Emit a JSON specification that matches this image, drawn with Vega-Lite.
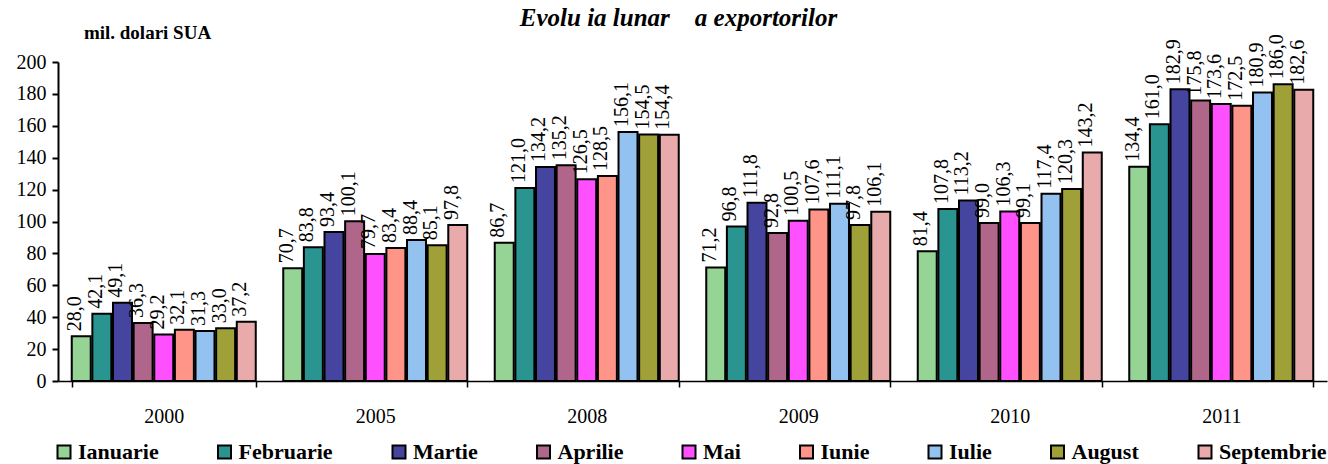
{
  "$schema": "https://vega.github.io/schema/vega-lite/v6.json",
  "autosize": "none",
  "width": 1269,
  "height": 319,
  "padding": {"left": 58, "top": 62, "right": 1, "bottom": 83},
  "background": "white",
  "config": {
    "view": {"stroke": null},
    "font": "Liberation Serif",
    "locale": {"number": {"decimal": ",", "thousands": ".", "grouping": [3], "currency": ["", ""]}}
  },
  "title": {
    "text": "Evolu ia lunar\u00a0\u00a0\u00a0\u00a0a exportorilor",
    "font": "Liberation Serif",
    "fontSize": 25,
    "fontStyle": "italic",
    "fontWeight": "bold",
    "anchor": "middle",
    "frame": "group",
    "baseline": "alphabetic",
    "dx": -14,
    "dy": 23,
    "offset": -5,
    "color": "black"
  },
  "data": {
    "values": [
      {"an": "2000", "luna": "Ianuarie", "v": 28.0},
      {"an": "2000", "luna": "Februarie", "v": 42.1},
      {"an": "2000", "luna": "Martie", "v": 49.1},
      {"an": "2000", "luna": "Aprilie", "v": 36.3},
      {"an": "2000", "luna": "Mai", "v": 29.2},
      {"an": "2000", "luna": "Iunie", "v": 32.1},
      {"an": "2000", "luna": "Iulie", "v": 31.3},
      {"an": "2000", "luna": "August", "v": 33.0},
      {"an": "2000", "luna": "Septembrie", "v": 37.2},
      {"an": "2005", "luna": "Ianuarie", "v": 70.7},
      {"an": "2005", "luna": "Februarie", "v": 83.8},
      {"an": "2005", "luna": "Martie", "v": 93.4},
      {"an": "2005", "luna": "Aprilie", "v": 100.1},
      {"an": "2005", "luna": "Mai", "v": 79.7},
      {"an": "2005", "luna": "Iunie", "v": 83.4},
      {"an": "2005", "luna": "Iulie", "v": 88.4},
      {"an": "2005", "luna": "August", "v": 85.1},
      {"an": "2005", "luna": "Septembrie", "v": 97.8},
      {"an": "2008", "luna": "Ianuarie", "v": 86.7},
      {"an": "2008", "luna": "Februarie", "v": 121.0},
      {"an": "2008", "luna": "Martie", "v": 134.2},
      {"an": "2008", "luna": "Aprilie", "v": 135.2},
      {"an": "2008", "luna": "Mai", "v": 126.5},
      {"an": "2008", "luna": "Iunie", "v": 128.5},
      {"an": "2008", "luna": "Iulie", "v": 156.1},
      {"an": "2008", "luna": "August", "v": 154.5},
      {"an": "2008", "luna": "Septembrie", "v": 154.4},
      {"an": "2009", "luna": "Ianuarie", "v": 71.2},
      {"an": "2009", "luna": "Februarie", "v": 96.8},
      {"an": "2009", "luna": "Martie", "v": 111.8},
      {"an": "2009", "luna": "Aprilie", "v": 92.8},
      {"an": "2009", "luna": "Mai", "v": 100.5},
      {"an": "2009", "luna": "Iunie", "v": 107.6},
      {"an": "2009", "luna": "Iulie", "v": 111.1},
      {"an": "2009", "luna": "August", "v": 97.8},
      {"an": "2009", "luna": "Septembrie", "v": 106.1},
      {"an": "2010", "luna": "Ianuarie", "v": 81.4},
      {"an": "2010", "luna": "Februarie", "v": 107.8},
      {"an": "2010", "luna": "Martie", "v": 113.2},
      {"an": "2010", "luna": "Aprilie", "v": 99.0},
      {"an": "2010", "luna": "Mai", "v": 106.3},
      {"an": "2010", "luna": "Iunie", "v": 99.1},
      {"an": "2010", "luna": "Iulie", "v": 117.4},
      {"an": "2010", "luna": "August", "v": 120.3},
      {"an": "2010", "luna": "Septembrie", "v": 143.2},
      {"an": "2011", "luna": "Ianuarie", "v": 134.4},
      {"an": "2011", "luna": "Februarie", "v": 161.0},
      {"an": "2011", "luna": "Martie", "v": 182.9},
      {"an": "2011", "luna": "Aprilie", "v": 175.8},
      {"an": "2011", "luna": "Mai", "v": 173.6},
      {"an": "2011", "luna": "Iunie", "v": 172.5},
      {"an": "2011", "luna": "Iulie", "v": 180.9},
      {"an": "2011", "luna": "August", "v": 186.0},
      {"an": "2011", "luna": "Septembrie", "v": 182.6}
    ]
  },
  "encoding": {
    "x": {
      "field": "an",
      "type": "nominal",
      "scale": {"paddingInner": 0.13, "paddingOuter": 0.065},
      "axis": {
        "title": null,
        "labelAngle": 0,
        "labelFont": "Liberation Serif",
        "labelFontSize": 20,
        "labelColor": "black",
        "labelPadding": 19,
        "domainColor": "black",
        "domainWidth": 1.5,
        "tickColor": "black",
        "tickWidth": 1.5,
        "tickSize": 6,
        "tickBand": "extent"
      }
    },
    "xOffset": {
      "field": "luna",
      "type": "nominal",
      "sort": ["Ianuarie", "Februarie", "Martie", "Aprilie", "Mai", "Iunie", "Iulie", "August", "Septembrie"],
      "scale": {"paddingInner": 0.08, "paddingOuter": 0}
    },
    "y": {
      "field": "v",
      "type": "quantitative",
      "scale": {"domain": [0, 200], "nice": false},
      "axis": {
        "title": "mil. dolari SUA",
        "titleAngle": 0,
        "titleX": 89,
        "titleY": -24,
        "titleAlign": "center",
        "titleBaseline": "alphabetic",
        "titleFont": "Liberation Serif",
        "titleFontSize": 19,
        "titleFontWeight": "bold",
        "titleColor": "black",
        "values": [0, 20, 40, 60, 80, 100, 120, 140, 160, 180, 200],
        "format": "d",
        "grid": false,
        "labelFont": "Liberation Serif",
        "labelFontSize": 20,
        "labelColor": "black",
        "labelPadding": 6,
        "domainColor": "black",
        "domainWidth": 2,
        "tickColor": "black",
        "tickWidth": 2,
        "tickSize": 6
      }
    }
  },
  "layer": [
    {
      "mark": {"type": "bar", "stroke": "black", "strokeWidth": 2},
      "encoding": {
        "fill": {
          "field": "luna",
          "type": "nominal",
          "sort": ["Ianuarie", "Februarie", "Martie", "Aprilie", "Mai", "Iunie", "Iulie", "August", "Septembrie"],
          "scale": {
            "domain": ["Ianuarie", "Februarie", "Martie", "Aprilie", "Mai", "Iunie", "Iulie", "August", "Septembrie"],
            "range": ["#95d495", "#2a9590", "#4545a0", "#b0668a", "#ff50ff", "#ff9488", "#94c2f0", "#a0a038", "#e8aaaa"]
          },
          "legend": {
            "title": null,
            "orient": "none",
            "legendX": -5,
            "legendY": 379,
            "direction": "horizontal",
            "columns": 9,
            "gridAlign": "none",
            "columnPadding": 54.5,
            "symbolType": "square",
            "symbolSize": 169,
            "symbolStrokeColor": "black",
            "symbolStrokeWidth": 2,
            "symbolOpacity": 1,
            "labelFont": "Liberation Serif",
            "labelFontSize": 22,
            "labelFontWeight": "bold",
            "labelColor": "black",
            "labelOffset": 3,
            "labelLimit": 250
          }
        }
      }
    },
    {
      "mark": {
        "type": "text",
        "angle": 270,
        "align": "left",
        "baseline": "alphabetic",
        "dx": 5,
        "font": "Liberation Serif",
        "fontSize": 20,
        "color": "black"
      },
      "encoding": {
        "text": {"field": "v", "type": "quantitative", "format": ".1f"}
      }
    }
  ]
}
